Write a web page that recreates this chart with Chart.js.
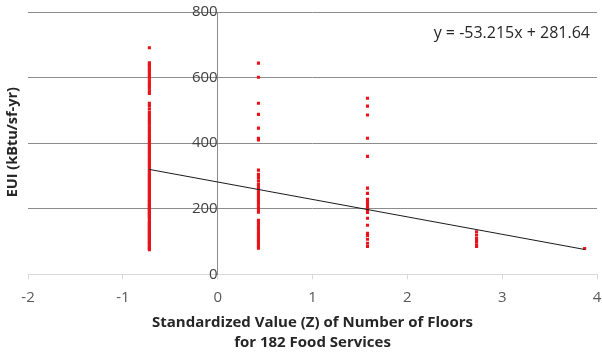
<!DOCTYPE html>
<html>
<head>
<meta charset="utf-8">
<script src="https://cdn.jsdelivr.net/npm/chart.js@4.4.0/dist/chart.umd.min.js"></script>
<style>
  html, body { margin: 0; padding: 0; background: #fff; }
  #wrap { width: 602px; height: 354px; position: relative; }
</style>
</head>
<body>
<div id="wrap"><canvas id="eui"></canvas></div>
<script>
// standardized floor values (one per floor count) and EUI readings for each
var zValues = [-0.72, 0.43, 1.58, 2.73, 3.87];
var euiFloor1 = [691, 645, 640, 636, 630, 624, 618, 610, 604, 598, 590, 582, 575, 568, 560, 552,
    522, 515, 505, 495, 488, 480, 472, 465, 458, 450, 442, 435, 428, 420, 414, 408, 400, 394,
    388, 382, 376, 370, 364, 358, 352, 346, 340, 334, 328, 322, 316, 310, 305, 300, 295, 290,
    285, 280, 275, 270, 265, 260, 255, 250, 245, 240, 235, 230, 226, 222, 218, 214, 210, 206,
    202, 198, 194, 190, 186, 182, 178, 174, 170, 162, 158, 154, 150, 146, 142, 138, 134, 130,
    126, 122, 118, 114, 110, 106, 102, 98, 94, 90, 86, 82, 78, 75];
var euiFloor2 = [644, 601, 522, 488, 446, 415, 410, 318, 305, 295, 285, 275, 268, 260, 252, 245,
    238, 230, 222, 214, 206, 198, 190, 165, 158, 150, 143, 136, 128, 121, 114, 107, 100, 93, 86, 80];
var euiFloor3 = [537, 513, 486, 415, 360, 263, 247, 229, 222, 215, 208, 201, 195, 189, 171, 150,
    125, 119, 107, 95, 85];
var euiFloor4 = [130, 120, 110, 100, 90, 85];
var euiFloor5 = [79];

// trend line: y = -53.215x + 281.64
var trendX = [-0.72, 3.87];
var trendY = [320, 76];
var trendLabel = 'y = -53.215x + 281.64';

var xTicks = [-2, -1, 0, 1, 2, 3, 4];
var yTicks = [0, 200, 400, 600, 800];

var xTitle = ['Standardized Value (Z) of Number of Floors', 'for 182 Food Services'];
var yTitle = 'EUI (kBtu/sf-yr)';

function toPoints(x, list) {
    return list.map(function (v) { return { x: x, y: v }; });
}

var scatterPts = []
    .concat(toPoints(zValues[0], euiFloor1))
    .concat(toPoints(zValues[1], euiFloor2))
    .concat(toPoints(zValues[2], euiFloor3))
    .concat(toPoints(zValues[3], euiFloor4))
    .concat(toPoints(zValues[4], euiFloor5));

var trendPts = trendX.map(function (x, i) { return { x: x, y: trendY[i] }; });

// axis titles and equation text drawn by hand
var extraText = {
    id: 'extraText',
    afterDraw: function (chart) {
        var ctx = chart.ctx;
        var area = chart.chartArea;
        var midX = (area.left + area.right) / 2;

        ctx.save();
        ctx.fillStyle = '#262626';
        ctx.font = 'bold 14.5px "Open Sans"';
        ctx.textAlign = 'center';
        ctx.textBaseline = 'middle';
        ctx.translate(13, (area.top + area.bottom) / 2 - 1);
        ctx.rotate(-Math.PI / 2);
        ctx.fillText(yTitle, 0, 0);
        ctx.restore();

        ctx.save();
        ctx.fillStyle = '#262626';
        ctx.font = 'bold 15px "Open Sans"';
        ctx.textAlign = 'center';
        ctx.textBaseline = 'middle';
        ctx.fillText(xTitle[0], midX, 323);
        ctx.fillText(xTitle[1], midX, 343);
        ctx.restore();

        ctx.save();
        ctx.fillStyle = '#262626';
        ctx.font = '16px "Open Sans"';
        ctx.textAlign = 'right';
        ctx.textBaseline = 'middle';
        ctx.fillText(trendLabel, 590, 33);
        ctx.restore();
    }
};

// keep label overhang from pushing the plot area in
function noOverhang(scale) {
    scale.paddingTop = 0;
    scale.paddingBottom = 0;
    scale.paddingLeft = 0;
    scale.paddingRight = 0;
}

new Chart(document.getElementById('eui'), {
    type: 'scatter',
    data: {
        datasets: [
            {
                label: 'EUI',
                data: scatterPts,
                pointStyle: 'rect',
                pointRadius: 2.2,
                pointBackgroundColor: '#e8141c',
                pointBorderWidth: 0,
                order: 2
            },
            {
                label: 'Trend',
                type: 'line',
                data: trendPts,
                borderColor: '#1a1a1a',
                borderWidth: 1,
                pointRadius: 0,
                fill: false,
                order: 1
            }
        ]
    },
    options: {
        responsive: true,
        maintainAspectRatio: false,
        animation: false,
        layout: { autoPadding: false, padding: { left: 28, right: 5, top: 12, bottom: 38.6 } },
        plugins: {
            legend: { display: false },
            tooltip: { enabled: false }
        },
        scales: {
            x: {
                type: 'linear',
                min: -2,
                max: 4,
                afterBuildTicks: function (axis) {
                    axis.ticks = xTicks.map(function (v) { return { value: v }; });
                },
                afterFit: noOverhang,
                grid: {
                    drawOnChartArea: false,
                    drawTicks: true,
                    tickLength: 5,
                    color: '#d9d9d9'
                },
                border: { color: '#d9d9d9', width: 1 },
                ticks: {
                    color: '#595959',
                    font: { family: 'Open Sans', size: 15 },
                    padding: 9,
                    maxRotation: 0
                }
            },
            y: {
                type: 'linear',
                position: { x: 0 },
                min: 0,
                max: 800,
                afterBuildTicks: function (axis) {
                    axis.ticks = yTicks.map(function (v) { return { value: v }; });
                },
                afterFit: noOverhang,
                grid: {
                    drawTicks: false,
                    color: function (c) {
                        return c.tick && c.tick.value === 0 ? 'rgba(0,0,0,0)' : '#8c8c8c';
                    }
                },
                border: { color: '#8c8c8c', width: 1 },
                ticks: {
                    color: '#404040',
                    font: { family: 'Open Sans', size: 15 },
                    padding: 14
                }
            }
        }
    },
    plugins: [extraText]
});
</script>
</body>
</html>
